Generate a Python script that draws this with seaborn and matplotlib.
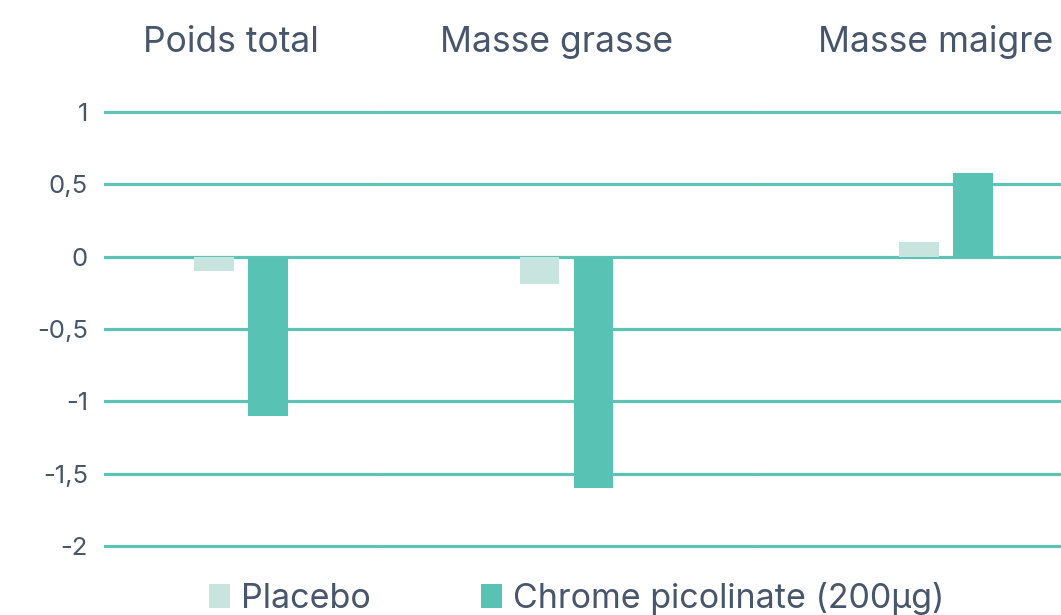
import matplotlib
matplotlib.use("Agg")
import matplotlib.pyplot as plt
from matplotlib.patches import Patch
import seaborn as sns
import pandas as pd

categories = ["Poids total", "Masse grasse", "Masse maigre"]
groups = ["Placebo", "Chrome picolinate (200µg)"]
placebo = [-0.1, -0.19, 0.1]
chrome = [-1.1, -1.6, 0.58]
tick_values = [1, 0.5, 0, -0.5, -1, -1.5, -2]
tick_labels = ["1", "0,5", "0", "-0,5", "-1", "-1,5", "-2"]

colors = {"Placebo": "#c8e4de", "Chrome picolinate (200µg)": "#58c3b5"}
grid_color = "#5cc3b5"
text_color = "#47566a"

sns.set_theme(style="white")
plt.rcParams["font.family"] = ["Inter", "DejaVu Sans"]

W, H = 1061, 615
fig = plt.figure(figsize=(W / 100, H / 100), dpi=100)

# panel edges in pixels (last one runs past the right border)
edges = [104, 378, 755, 1137]
unit_px = 274.0  # pixels per x data unit, shared by all panels
y_lo, y_hi = -2.02, 1.02
ax_bottom = (H - 548.9) / H
ax_top = (H - 109.1) / H

axes = []
for i, cat in enumerate(categories):
    left, right = edges[i], edges[i + 1]
    ax = fig.add_axes([left / W, ax_bottom, (right - left) / W, ax_top - ax_bottom])
    df = pd.DataFrame({
        "cat": [cat, cat],
        "group": groups,
        "value": [placebo[i], chrome[i]],
    })
    sns.barplot(data=df, x="cat", y="value", hue="group", hue_order=groups,
                palette=colors, width=0.394, gap=0.26, dodge=True,
                saturation=1, legend=False, linewidth=0, ax=ax, zorder=3)
    half = (right - left) / (2 * unit_px)
    ax.set_xlim(-half, half)
    ax.set_ylim(y_lo, y_hi)
    ax.set_yticks(tick_values)
    ax.yaxis.grid(True, color=grid_color, linewidth=2.3, zorder=0)
    ax.set_axisbelow(True)
    ax.set_xticks([])
    ax.set_xlabel("")
    ax.set_ylabel("")
    for s in ax.spines.values():
        s.set_visible(False)
    ax.patch.set_alpha(0)
    if i == 0:
        ax.set_yticklabels(tick_labels)
        ax.tick_params(axis="y", length=0, pad=11.5, labelsize=18.5, labelcolor=text_color)
    else:
        ax.tick_params(axis="y", length=0, labelleft=False)
    ax.set_title(cat, x=0.5 - 10 / (right - left), pad=41, fontsize=25.5,
                 color=text_color)
    axes.append(ax)

handles = [Patch(facecolor=colors[g], edgecolor="none") for g in groups]
fig.legend(handles, groups, loc="lower center", bbox_to_anchor=(0.5434, -0.049),
           ncol=2, frameon=False, fontsize=24.5, labelcolor=text_color,
           handlelength=0.62, handleheight=0.7, handletextpad=0.32,
           columnspacing=3.26)

fig.savefig("out.png", dpi=100)
